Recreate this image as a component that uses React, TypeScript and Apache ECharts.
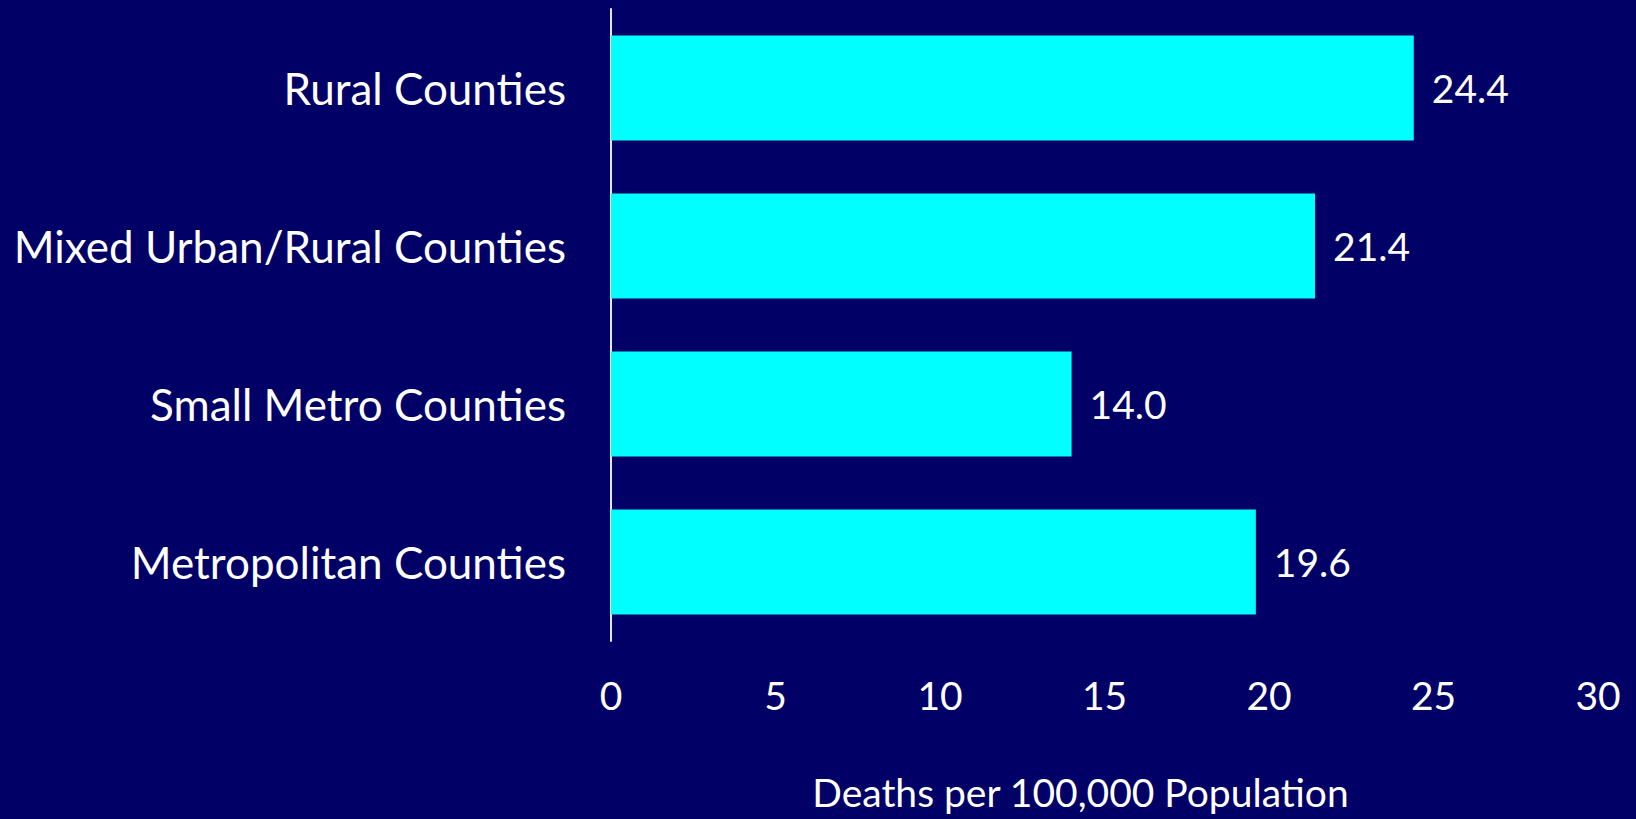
import React, { useEffect, useRef } from "react";
import * as echarts from "echarts";

const categories = [
  "Rural Counties",
  "Mixed Urban/Rural Counties",
  "Small Metro Counties",
  "Metropolitan Counties",
];
const values = [24.4, 21.4, 14.0, 19.6];
const xTicks = { min: 0, max: 30, interval: 5 };
const axisTitle = "Deaths per 100,000 Population";

const FONT = "Lato";

export default function App() {
  const ref = useRef<HTMLDivElement>(null);
  useEffect(() => {
    document.body.style.margin = "0";
    const chart = echarts.init(ref.current!, null, { renderer: "svg" });
    chart.setOption({
      animation: false,
      backgroundColor: "#000066",
      grid: {
        left: 611,
        right: 38,
        top: 9,
        bottom: 178,
        containLabel: false,
        outerBoundsMode: "none",
      },
      xAxis: {
        type: "value",
        min: xTicks.min,
        max: xTicks.max,
        interval: xTicks.interval,
        splitLine: { show: false },
        axisLine: { show: false },
        axisTick: { show: false },
        axisLabel: {
          color: "#ffffff",
          fontFamily: FONT,
          fontSize: 39,
          margin: 34,
        },
        name: axisTitle,
        nameLocation: "middle",
        nameGap: 131,
        nameTextStyle: {
          color: "#ffffff",
          fontFamily: FONT,
          fontSize: 39,
          lineHeight: 40,
          padding: [0, 48, 0, 0],
        },
      },
      yAxis: {
        type: "category",
        inverse: true,
        data: categories,
        axisTick: { show: false },
        axisLine: { show: true, lineStyle: { color: "#e6e6e6", width: 2 } },
        axisLabel: {
          color: "#ffffff",
          fontFamily: FONT,
          fontSize: 44,
          margin: 45,
        },
      },
      series: [
        {
          type: "bar",
          data: values,
          barCategoryGap: "33.5%",
          itemStyle: { color: "#00ffff" },
          label: {
            show: true,
            position: "right",
            distance: 18,
            color: "#ffffff",
            fontFamily: FONT,
            fontSize: 39,
            formatter: (p: any) => Number(p.value).toFixed(1),
          },
        },
      ],
    });
    return () => chart.dispose();
  }, []);
  return (
    <div
      ref={ref}
      style={{ position: "fixed", left: 0, top: 0, width: 1636, height: 819 }}
    />
  );
}
